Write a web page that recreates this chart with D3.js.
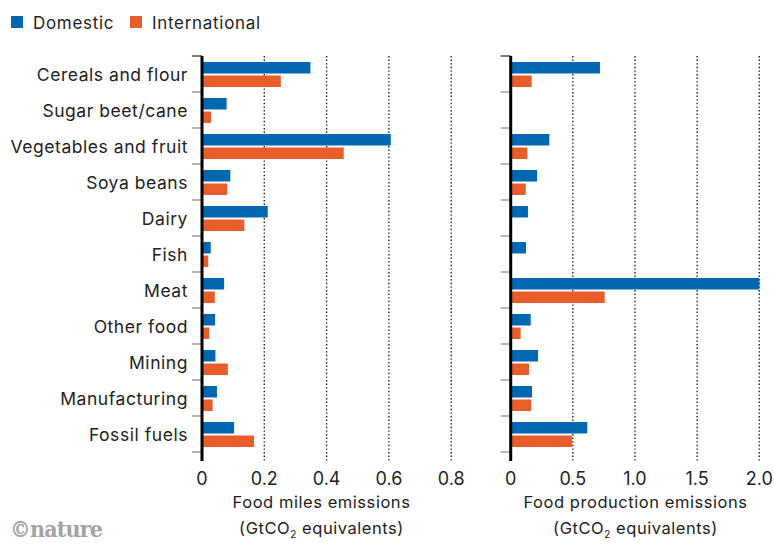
<!DOCTYPE html>
<html>
<head>
<meta charset="utf-8">
<script src="https://cdn.jsdelivr.net/npm/d3@7"></script>
<style>
  html, body { margin: 0; padding: 0; background: #fff; }
  svg { display: block; }
  text { font-family: Inter, "Open Sans", sans-serif; fill: #222; }
</style>
</head>
<body>
<svg id="chart" width="774" height="545"></svg>
<script>
const categories = ["Cereals and flour", "Sugar beet/cane", "Vegetables and fruit", "Soya beans", "Dairy", "Fish", "Meat", "Other food", "Mining", "Manufacturing", "Fossil fuels"];
const seriesNames = ["Domestic", "International"];
const milesDomestic      = [0.348, 0.079, 0.606, 0.091, 0.211, 0.028, 0.071, 0.042, 0.043, 0.048, 0.103];
const milesInternational = [0.253, 0.029, 0.455, 0.081, 0.136, 0.020, 0.041, 0.023, 0.083, 0.034, 0.167];
const prodDomestic       = [0.718, 0, 0.311, 0.212, 0.139, 0.123, 2.0, 0.161, 0.220, 0.171, 0.616];
const prodInternational  = [0.169, 0, 0.134, 0.121, 0, 0, 0.756, 0.080, 0.147, 0.166, 0.493];
const milesTicks = [0, 0.2, 0.4, 0.6, 0.8];
const prodTicks = [0, 0.5, 1.0, 1.5, 2.0];
const milesTitle = ["Food miles emissions", "(GtCO", "2", " equivalents)"];
const prodTitle = ["Food production emissions", "(GtCO", "2", " equivalents)"];

const colors = { Domestic: "#0067b1", International: "#e85d2a" };

const svg = d3.select("#chart");

const y = d3.scaleBand().domain(categories).range([56, 452]).padding(0);
const ySub = d3.scaleBand().domain(seriesNames).range([6, 31]).paddingInner(0.148);

// Legend
const legend = svg.append("g");
[["Domestic", 11, 33], ["International", 130, 152]].forEach(([name, sx, tx]) => {
  legend.append("rect").attr("x", sx).attr("y", 16).attr("width", 12).attr("height", 12).attr("fill", colors[name]);
  legend.append("text").attr("x", tx).attr("y", 28.5).attr("font-size", 17)
    .attr("letter-spacing", 0.7).text(name);
});

// Category labels
svg.append("g").selectAll("text").data(categories).join("text")
  .attr("x", 188)
  .attr("y", d => y(d) + y.bandwidth() / 2 + 6.5)
  .attr("text-anchor", "end")
  .attr("font-size", 17.5)
  .attr("letter-spacing", 0.55)
  .text(d => d);

function panel(x0, x1, domain, ticks, dom, intl, title, cx, fmt) {
  const x = d3.scaleLinear().domain(domain).range([x0, x1]);
  const g = svg.append("g");
  // gridlines
  g.selectAll("line.grid").data(ticks.slice(1)).join("line")
    .attr("class", "grid")
    .attr("x1", d => x(d)).attr("x2", d => x(d))
    .attr("y1", 56).attr("y2", 461)
    .attr("stroke", "#222").attr("stroke-width", 1.4)
    .attr("stroke-dasharray", "1.4 2.2");
  // bars
  const rows = categories.map((c, i) => ({ c, vals: [["Domestic", dom[i]], ["International", intl[i]]] }));
  const rg = g.selectAll("g.row").data(rows).join("g").attr("class", "row")
    .attr("transform", d => `translate(0,${y(d.c)})`);
  rg.selectAll("rect").data(d => d.vals.filter(v => v[1] > 0)).join("rect")
    .attr("x", x(0))
    .attr("y", d => ySub(d[0]))
    .attr("width", d => x(d[1]) - x(0))
    .attr("height", ySub.bandwidth())
    .attr("fill", d => colors[d[0]]);
  // band ticks
  const bounds = categories.map(c => y(c)).concat([y.range()[1]]);
  g.selectAll("line.bt").data(bounds).join("line")
    .attr("class", "bt")
    .attr("x1", x(0) - 10).attr("x2", x(0))
    .attr("y1", d => d).attr("y2", d => d)
    .attr("stroke", (d, i) => i === 0 ? "#222" : "#888").attr("stroke-width", 1.2);
  // axis line
  g.append("line").attr("x1", x(0)).attr("x2", x(0)).attr("y1", 56).attr("y2", 461)
    .attr("stroke", "#000").attr("stroke-width", 3);
  // tick labels
  g.selectAll("text.tl").data(ticks).join("text")
    .attr("class", "tl")
    .attr("x", d => x(d)).attr("y", 485)
    .attr("text-anchor", "middle").attr("font-size", 18)
    .text(fmt);
  // title
  g.append("text").attr("x", cx).attr("y", 508).attr("text-anchor", "middle")
    .attr("font-size", 16.5).attr("letter-spacing", 0.55).text(title[0]);
  const t2 = g.append("text").attr("x", cx).attr("y", 534).attr("text-anchor", "middle")
    .attr("font-size", 16.5).attr("letter-spacing", 0.55);
  t2.append("tspan").text(title[1]);
  t2.append("tspan").attr("font-size", 10).attr("dy", 4).text(title[2]);
  t2.append("tspan").attr("dy", -4).text(title[3]);
}

panel(202, 451.2, [0, 0.8], milesTicks, milesDomestic, milesInternational, milesTitle, 321.5, d => d === 0 ? "0" : d3.format(".1f")(d));
panel(510.7, 759.3, [0, 2], prodTicks, prodDomestic, prodInternational, prodTitle, 635.5, d => d === 0 ? "0" : d3.format(".1f")(d));

// Nature logo
svg.append("text").attr("x", 10).attr("y", 537)
  .attr("font-size", 23).attr("font-weight", "bold")
  .style("font-family", "'DejaVu Serif Condensed', 'Liberation Serif', serif")
  .style("fill", "#a3a3a3")
  .attr("letter-spacing", -0.8)
  .text("©nature");
</script>
</body>
</html>
